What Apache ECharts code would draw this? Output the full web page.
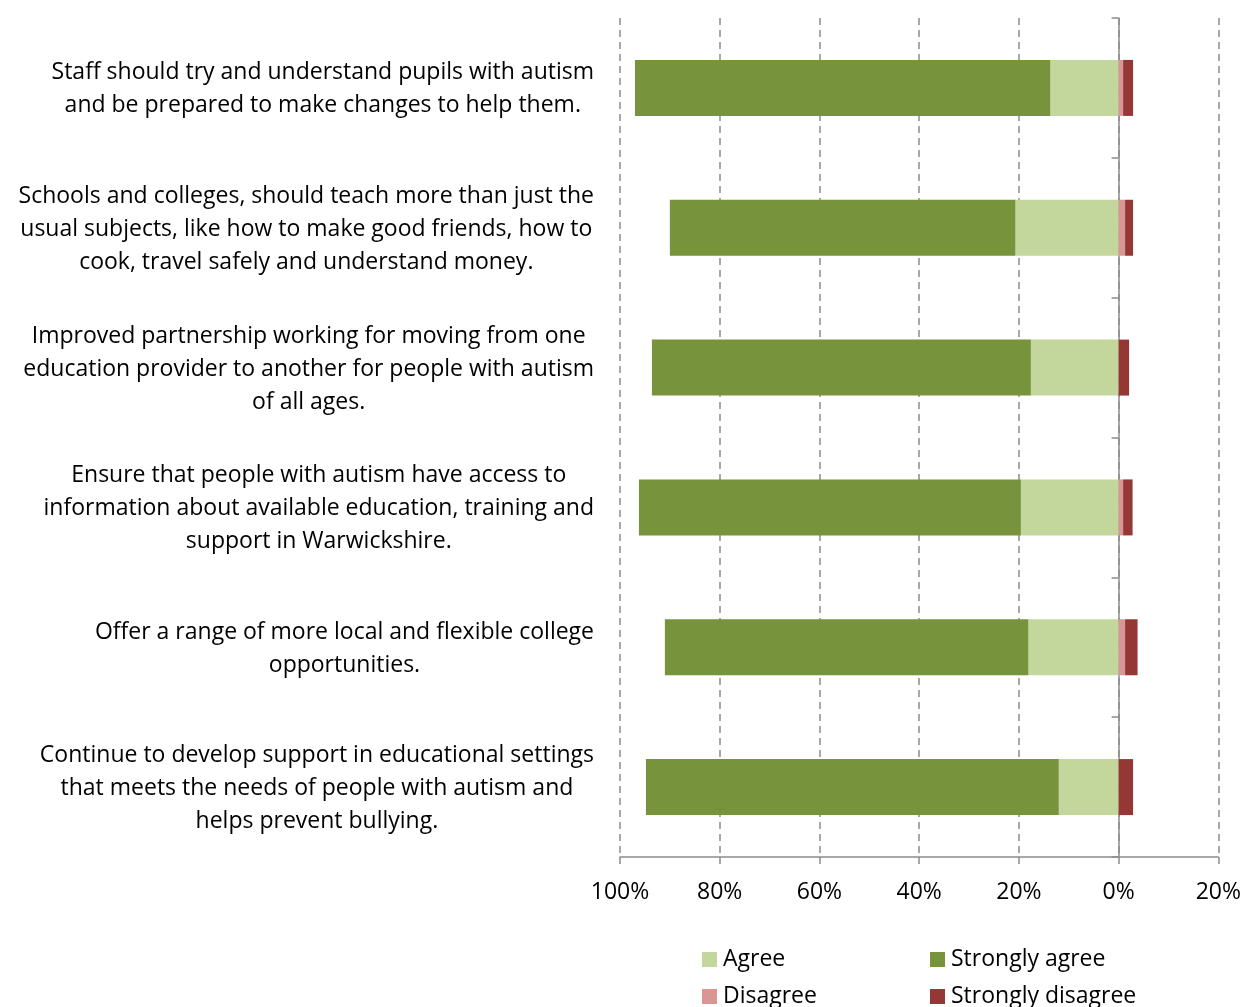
<!DOCTYPE html>
<html>
<head>
<meta charset="utf-8">
<title>Education priorities – agreement</title>
<script src="https://cdn.jsdelivr.net/npm/echarts@6/dist/echarts.min.js"></script>
<style>
  html, body { margin: 0; padding: 0; background: #ffffff; }
  #chart { width: 1244px; height: 1007px; }
</style>
</head>
<body>
<div id="chart"></div>
<script>
// Statements, listed top to bottom
const categories = [
  'Staff should try and understand pupils with autism\nand be prepared to make changes to help them.',
  'Schools and colleges, should teach more than just the\nusual subjects, like how to make good friends, how to\ncook, travel safely and understand money.',
  'Improved partnership working for moving from one\neducation provider to another for people with autism\nof all ages.',
  'Ensure that people with autism have access to\ninformation about available education, training and\nsupport in Warwickshire.',
  'Offer a range of more local and flexible college\nopportunities.',
  'Continue to develop support in educational settings\nthat meets the needs of people with autism and\nhelps prevent bullying.'
];

// Share of responses (%) per statement
const agree            = [13.7, 20.7, 17.6, 19.6, 18.1, 12.0];
const stronglyAgree    = [83.3, 69.3, 76.0, 76.6, 72.9, 82.8];
const disagree         = [0.9, 1.3, 0.0, 0.9, 1.3, 0.0];
const stronglyDisagree = [2.0, 1.6, 2.1, 1.9, 2.5, 2.9];

// Axis range (%): agreement runs to the left of zero
const axisMin = -100;
const axisMax = 20;
const axisStep = 20;

const FONT = '"Open Sans", "Noto Sans", sans-serif';
const FONT_SIZE = 23;
const colors = {
  agree: '#c3d69b',
  stronglyAgree: '#77933c',
  disagree: '#d99694',
  stronglyDisagree: '#953735'
};

const chart = echarts.init(document.getElementById('chart'), null, { renderer: 'canvas' });

const neg = arr => arr.map(v => -v);

// one single-item legend per entry, laid out as a 2 x 2 block
function legendItem(name, left, top) {
  return {
    data: [name],
    left: left,
    top: top,
    padding: 0,
    icon: 'rect',
    itemWidth: 15,
    itemHeight: 15,
    itemGap: 0,
    selectedMode: false,
    textStyle: { fontSize: FONT_SIZE, color: '#000000', fontFamily: FONT, padding: [0, 0, 0, 1] }
  };
}

const option = {
  backgroundColor: '#ffffff',
  animation: false,
  textStyle: { fontFamily: FONT },
  grid: { left: 620, right: 25, top: 18, bottom: 150, containLabel: false },
  xAxis: {
    type: 'value',
    min: axisMin,
    max: axisMax,
    interval: axisStep,
    axisLine: { show: true, lineStyle: { color: '#8c8c8c', width: 1.5 } },
    axisTick: { show: true, length: 7, lineStyle: { color: '#8c8c8c', width: 1.5 } },
    axisLabel: {
      margin: 24,
      color: '#000000',
      fontSize: FONT_SIZE,
      fontFamily: FONT,
      formatter: v => Math.abs(v) + '%'
    },
    splitLine: { show: true, lineStyle: { color: '#8c8c8c', width: 1.5, type: [7, 5] } }
  },
  yAxis: [
    {
      // axis line through zero with category tick marks
      type: 'category',
      data: categories,
      inverse: true,
      axisLine: { show: true, onZero: true, lineStyle: { color: '#8c8c8c', width: 1.5 } },
      axisTick: { show: true, length: 7, lineStyle: { color: '#8c8c8c', width: 1.5 } },
      axisLabel: { show: false },
      splitLine: { show: false }
    },
    {
      // statement labels along the left edge
      type: 'category',
      data: categories,
      inverse: true,
      position: 'left',
      axisLine: { show: false, onZero: false },
      axisTick: { show: false },
      splitLine: { show: false },
      axisLabel: {
        margin: 26,
        align: 'right',
        color: '#000000',
        fontSize: FONT_SIZE,
        fontFamily: FONT,
        lineHeight: 33,
        padding: [3, 0, 0, 0],
        formatter: v => v.split('\n').map(l => '{c|' + l + '}').join('\n'),
        rich: {
          c: { align: 'center', fontSize: FONT_SIZE, lineHeight: 33, color: '#000000', fontFamily: FONT }
        }
      }
    }
  ],
  legend: [
    legendItem('Agree', 702, 948),
    legendItem('Strongly agree', 930, 948),
    legendItem('Disagree', 702, 985),
    legendItem('Strongly disagree', 930, 985)
  ],
  series: [
    {
      name: 'Agree', type: 'bar', stack: 'total', yAxisIndex: 0,
      barWidth: 56,
      itemStyle: { color: colors.agree },
      data: neg(agree)
    },
    {
      name: 'Strongly agree', type: 'bar', stack: 'total', yAxisIndex: 0,
      barWidth: 56,
      itemStyle: { color: colors.stronglyAgree },
      data: neg(stronglyAgree)
    },
    {
      name: 'Disagree', type: 'bar', stack: 'total', yAxisIndex: 0,
      barWidth: 56,
      itemStyle: { color: colors.disagree },
      data: disagree
    },
    {
      name: 'Strongly disagree', type: 'bar', stack: 'total', yAxisIndex: 0,
      barWidth: 56,
      itemStyle: { color: colors.stronglyDisagree },
      data: stronglyDisagree
    }
  ]
};

chart.setOption(option);
</script>
</body>
</html>
